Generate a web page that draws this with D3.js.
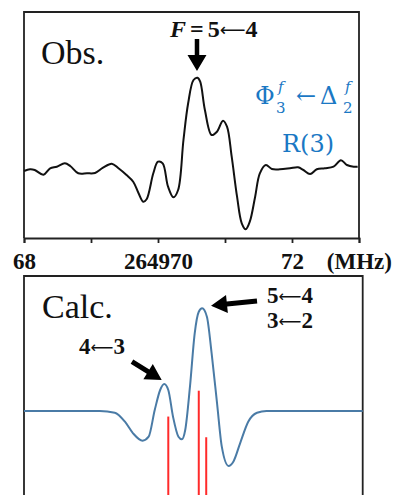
<!DOCTYPE html>
<html>
<head>
<meta charset="utf-8">
<script src="https://cdn.jsdelivr.net/npm/d3@7"></script>
<style>
  html, body { margin: 0; padding: 0; background: #fff; }
  svg { display: block; }
</style>
</head>
<body>
<div id="chart"></div>
<script>
// observed spectrum: frequency (MHz) and intensity (arb.)
const obsFreq = [264968.00, 264968.09, 264968.16, 264968.29, 264968.39, 264968.49, 264968.61, 264968.69,
  264968.81, 264968.94, 264969.06, 264969.18, 264969.31, 264969.41, 264969.53, 264969.63,
  264969.71, 264969.78, 264969.83, 264969.93, 264970.00, 264970.07, 264970.15, 264970.23,
  264970.30, 264970.38, 264970.45, 264970.53, 264970.59, 264970.63, 264970.70, 264970.80,
  264970.88, 264970.97, 264971.03, 264971.10, 264971.18, 264971.25, 264971.31, 264971.37,
  264971.45, 264971.52, 264971.61, 264971.70, 264971.82, 264971.97, 264972.09, 264972.17,
  264972.27, 264972.37, 264972.49, 264972.62, 264972.73, 264972.82, 264972.92, 264972.98];
const obsInt = [-0.10, 0.07, 0.00, -0.47, 0.17, 0.33, 0.67, 0.40,
  -0.33, -0.33, -0.30, 0.23, 0.63, 0.17, -0.50, -1.17,
  -2.33, -3.17, -2.93, -0.33, 0.83, 0.67, -1.67, -2.73,
  -2.00, 3.00, 6.67, 9.00, 9.23, 8.83, 6.00, 3.50,
  3.83, 4.93, 4.33, 1.33, -2.67, -5.33, -5.93, -5.17,
  -2.67, -0.33, 0.50, 0.10, 0.07, 0.17, 0.27, 0.00,
  -0.40, 0.07, 0.17, 0.33, 0.97, 0.50, 0.33, 0.33];

// calculated spectrum
const calcFreq = [264968.00, 264969.12, 264969.34, 264969.49, 264969.61, 264969.75, 264969.84, 264969.93,
  264970.01, 264970.07, 264970.13, 264970.20, 264970.28, 264970.33, 264970.38, 264970.45,
  264970.52, 264970.58, 264970.63, 264970.70, 264970.77, 264970.85, 264970.92, 264971.02,
  264971.09, 264971.19, 264971.31, 264971.44, 264971.58, 264973.00];
const calcInt = [0, 0, -0.17, -1.07, -2.23, -2.97, -2.57, 0.10,
  2.10, 2.70, 2.10, -0.57, -2.57, -2.83, -1.90, 2.43,
  7.77, 9.93, 10.27, 9.43, 5.77, 0.77, -3.57, -5.50,
  -5.07, -3.23, -1.07, -0.17, 0, 0];

// stick spectrum (hyperfine components)
const stickFreq = [264970.13, 264970.58, 264970.69];
const stickInt = [0.80, 1.00, 0.64];

const tickValues = [264968, 264969, 264970, 264971, 264972, 264973];
const tickLabels = ['68', '', '264970', '', '72', ''];

const W = 393, H = 495;
const serif = '"Liberation Serif", "Times New Roman", serif';
const blue = '#1a78c4';

const svg = d3.select('#chart').append('svg')
  .attr('width', W).attr('height', H);

// scales
const xTop = d3.scaleLinear().domain([264968, 264973]).range([24, 359]);
const yTop = d3.scaleLinear().domain([-6.8, 15.8]).range([238, 12]);
const xBot = d3.scaleLinear().domain([264968, 264973]).range([24, 362.7]);
const yBot = d3.scaleLinear().domain([-10.9, 13.5]).range([520, 276]);
const yStick = d3.scaleLinear().domain([0, 1]).range([520, 390.7]);

function arrow(g, x1, y1, x2, y2, shaft, headLen, headW) {
  const dx = x2 - x1, dy = y2 - y1;
  const len = Math.hypot(dx, dy);
  const ux = dx / len, uy = dy / len;
  const nx = -uy, ny = ux;
  const bx = x2 - ux * headLen, by = y2 - uy * headLen;
  const pts = [
    [x1 + nx * shaft / 2, y1 + ny * shaft / 2],
    [bx + nx * shaft / 2, by + ny * shaft / 2],
    [bx + nx * headW / 2, by + ny * headW / 2],
    [x2, y2],
    [bx - nx * headW / 2, by - ny * headW / 2],
    [bx - nx * shaft / 2, by - ny * shaft / 2],
    [x1 - nx * shaft / 2, y1 - ny * shaft / 2]
  ];
  g.append('path').attr('d', 'M' + pts.join('L') + 'Z').attr('fill', '#000');
}

// thin long arrow glyph used inside the quantum-number labels
function arrowSpan(t, size) {
  t.append('tspan').attr('dy', -1)
    .style('font-family', '"DejaVu Sans", sans-serif').style('font-weight', 'normal')
    .style('font-size', (size || 16) + 'px').text('⟵');
}

function transition(g, x, y, a, b) {
  const t = g.append('text').attr('x', x).attr('y', y)
    .style('font-family', serif).style('font-size', '23px')
    .style('font-weight', 'bold').attr('fill', '#111');
  t.append('tspan').text(a);
  arrowSpan(t);
  t.append('tspan').attr('dy', 1).text(b);
  return t;
}

// ---- top panel (Obs.)
const gTop = svg.append('g');

gTop.append('path')
  .attr('d', `M${xTop.range()[0]},${yTop.range()[0]}V${yTop.range()[1]}H${xTop.range()[1]}V${yTop.range()[0]}`)
  .attr('fill', 'none').attr('stroke', '#222').attr('stroke-width', 1.8);

const axis = gTop.append('g')
  .attr('transform', `translate(0,${yTop.range()[0]})`)
  .call(d3.axisBottom(xTop).tickValues(tickValues).tickSize(5).tickSizeOuter(5)
    .tickFormat((d, i) => tickLabels[i]));
axis.select('.domain').attr('stroke', '#222').attr('stroke-width', 1.8);
axis.selectAll('.tick line').attr('stroke', '#222').attr('stroke-width', 1.8);
axis.selectAll('.tick text')
  .attr('y', 31).attr('dy', 0)
  .attr('fill', '#111')
  .style('font-family', serif).style('font-weight', 'bold').style('font-size', '23px');
axis.append('text')
  .attr('x', 392).attr('y', 31).attr('text-anchor', 'end')
  .attr('fill', '#111')
  .style('font-family', serif).style('font-weight', 'bold').style('font-size', '23px')
  .text('(MHz)');

const obsLine = d3.line()
  .x((d, i) => xTop(obsFreq[i]))
  .y((d, i) => yTop(obsInt[i]))
  .curve(d3.curveCatmullRom.alpha(0.5));
gTop.append('path')
  .datum(obsFreq)
  .attr('d', obsLine)
  .attr('fill', 'none').attr('stroke', '#111').attr('stroke-width', 2);

gTop.append('text')
  .attr('x', 41).attr('y', 64)
  .style('font-family', serif).style('font-size', '34px').attr('fill', '#111')
  .text('Obs.');

const lbl = gTop.append('text')
  .attr('x', 170).attr('y', 37)
  .style('font-family', serif).style('font-size', '24px').style('font-weight', 'bold')
  .attr('fill', '#111');
lbl.append('tspan').style('font-style', 'italic').text('F');
lbl.append('tspan').attr('dx', 4).text('=');
lbl.append('tspan').attr('dx', 4).text('5');
arrowSpan(lbl, 18);
lbl.append('tspan').attr('dy', 1).text('4');

// arrow above the main observed peak
arrow(gTop, xTop(264970.582), yTop(13.1), xTop(264970.582), yTop(9.9), 4.5, 16, 19);

// blue assignment label
const bfs = 24;
const bl = gTop.append('g').attr('fill', blue)
  .style('font-family', '"DejaVu Serif", serif');
bl.append('text').attr('x', 255).attr('y', 104).style('font-size', bfs + 'px').text('Φ');
bl.append('text').attr('x', 276).attr('y', 113).style('font-size', '15px').text('3');
bl.append('text').attr('x', 278).attr('y', 92).style('font-size', '15px').style('font-style', 'italic').text('f');
bl.append('text').attr('x', 296).attr('y', 104).style('font-size', bfs + 'px').text('←');
bl.append('text').attr('x', 320).attr('y', 104).style('font-size', bfs + 'px').text('Δ');
bl.append('text').attr('x', 343).attr('y', 113).style('font-size', '15px').text('2');
bl.append('text').attr('x', 345).attr('y', 92).style('font-size', '15px').style('font-style', 'italic').text('f');
bl.append('text').attr('x', 308).attr('y', 152).attr('text-anchor', 'middle')
  .style('font-size', bfs + 'px').text('R(3)');

// ---- bottom panel (Calc.)
const gBot = svg.append('g');

gBot.append('path')
  .attr('d', `M${xBot.range()[0]},${yBot.range()[0]}V${yBot.range()[1]}H${xBot.range()[1]}V${yBot.range()[0]}`)
  .attr('fill', 'none').attr('stroke', '#222').attr('stroke-width', 1.8);

gBot.selectAll('line.stick')
  .data(stickFreq)
  .enter().append('line')
  .attr('class', 'stick')
  .attr('x1', d => xBot(d)).attr('x2', d => xBot(d))
  .attr('y1', yStick(0)).attr('y2', (d, i) => yStick(stickInt[i]))
  .attr('stroke', '#ff2a2a').attr('stroke-width', 2);

const calcLine = d3.line()
  .x((d, i) => xBot(calcFreq[i]))
  .y((d, i) => yBot(calcInt[i]))
  .curve(d3.curveMonotoneX);
gBot.append('path')
  .datum(calcFreq)
  .attr('d', calcLine)
  .attr('fill', 'none').attr('stroke', '#4a7ba6').attr('stroke-width', 2);

gBot.append('text')
  .attr('x', 42).attr('y', 318)
  .style('font-family', serif).style('font-size', '34px').attr('fill', '#111')
  .text('Calc.');

transition(gBot, 267, 303, '5', '4');
transition(gBot, 267, 328, '3', '2');
transition(gBot, 79, 354, '4', '3');

arrow(gBot, xBot(264971.44), yBot(11.0), xBot(264970.761), yBot(10.53), 5, 16, 18);
arrow(gBot, xBot(264969.594), yBot(4.93), xBot(264970.033), yBot(3.1), 5, 16, 18);
</script>
</body>
</html>
